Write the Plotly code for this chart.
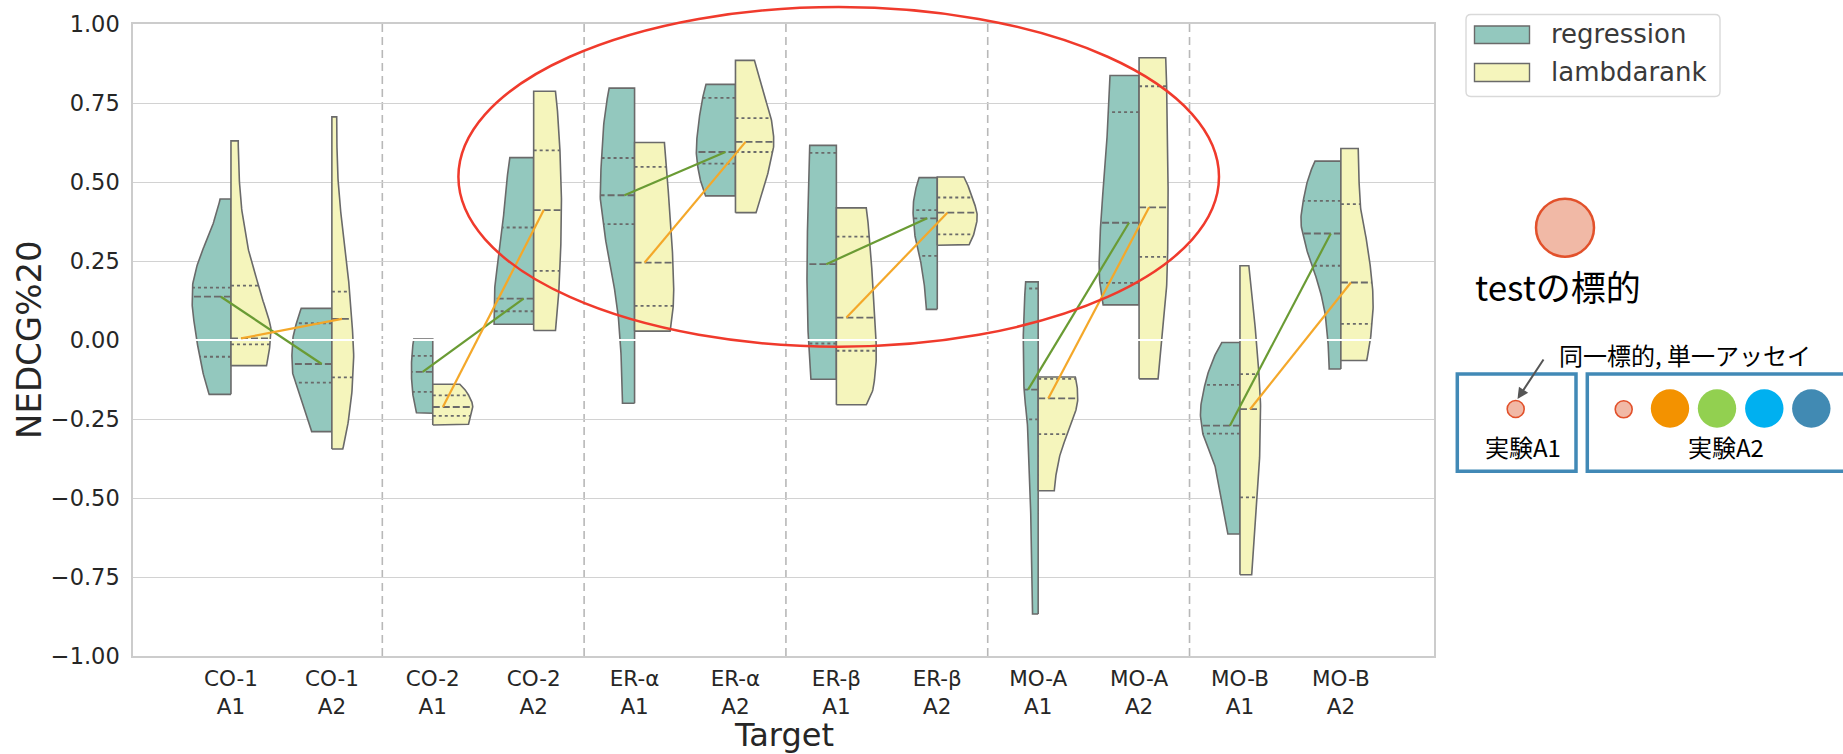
import numpy as np
import plotly.graph_objects as go

# ---------------- data ----------------
categories = ["CO-1<br>A1", "CO-1<br>A2", "CO-2<br>A1", "CO-2<br>A2", "ER-α<br>A1", "ER-α<br>A2",
              "ER-β<br>A1", "ER-β<br>A2", "MO-A<br>A1", "MO-A<br>A2", "MO-B<br>A1", "MO-B<br>A2"]

# quartiles of NEDCG%20 per violin
reg_q1 = [-0.053, -0.135, -0.164, 0.091, 0.367, 0.558, -0.011, 0.266, -0.251, 0.181, -0.296, 0.235]
reg_median = [0.137, -0.076, -0.101, 0.131, 0.458, 0.595, 0.240, 0.385, -0.157, 0.371, -0.271, 0.337]
reg_q3 = [0.166, 0.053, -0.050, 0.356, 0.576, 0.766, 0.592, 0.411, 0.163, 0.721, -0.142, 0.440]

lr_q1 = [-0.014, -0.118, -0.240, 0.219, 0.108, 0.595, -0.034, 0.334, -0.298, 0.263, -0.498, 0.051]
lr_median = [0.005, 0.067, -0.212, 0.411, 0.245, 0.627, 0.071, 0.403, -0.185, 0.420, -0.219, 0.182]
lr_q3 = [0.172, 0.153, -0.175, 0.600, 0.548, 0.702, 0.327, 0.451, -0.123, 0.803, -0.108, 0.430]

# density profiles (value levels from min to max, relative density at each level)
reg_levels = [
    [-0.172, -0.105, -0.053, 0.0, 0.053, 0.105, 0.158, 0.211, 0.263, 0.316, 0.369, 0.446],
    [-0.290, -0.263, -0.211, -0.158, -0.105, -0.053, 0.0, 0.053, 0.100],
    [-0.232, -0.164, -0.100, -0.050, 0.003],
    [0.050, 0.148, 0.253, 0.358, 0.464, 0.577],
    [-0.200, -0.063, 0.042, 0.148, 0.253, 0.367, 0.458, 0.576, 0.674, 0.797],
    [0.456, 0.537, 0.595, 0.727, 0.809],
    [-0.124, 0.063, 0.240, 0.379, 0.616],
    [0.097, 0.221, 0.327, 0.411, 0.514],
    [-0.867, -0.622, -0.380, -0.260, -0.157, -0.018, 0.184],
    [0.111, 0.223, 0.371, 0.586, 0.837],
    [-0.614, -0.516, -0.411, -0.358, -0.296, -0.232, -0.142, -0.063, -0.008],
    [-0.092, 0.063, 0.169, 0.274, 0.379, 0.442, 0.506, 0.566],
]
reg_density = [
    [0.54, 0.69, 0.77, 0.85, 0.91, 0.96, 0.96, 0.89, 0.77, 0.60, 0.44, 0.27],
    [0.50, 0.57, 0.70, 0.84, 0.97, 0.99, 0.97, 0.88, 0.76],
    [0.40, 0.50, 0.53, 0.52, 0.47],
    [0.98, 0.97, 0.88, 0.77, 0.70, 0.59],
    [0.30, 0.33, 0.38, 0.48, 0.64, 0.77, 0.85, 0.82, 0.77, 0.63],
    [0.74, 0.92, 0.97, 0.87, 0.73],
    [0.63, 0.71, 0.73, 0.71, 0.66],
    [0.27, 0.37, 0.55, 0.60, 0.45],
    [0.14, 0.17, 0.23, 0.27, 0.35, 0.37, 0.31],
    [0.89, 0.99, 0.95, 0.82, 0.72],
    [0.30, 0.44, 0.59, 0.75, 0.92, 0.98, 0.87, 0.67, 0.45],
    [0.29, 0.37, 0.54, 0.82, 0.99, 0.93, 0.82, 0.64],
]

lr_levels = [
    [-0.081, -0.032, 0.032, 0.074, 0.137, 0.200, 0.263, 0.348, 0.421, 0.527, 0.630],
    [-0.345, -0.263, -0.158, -0.053, 0.053, 0.158, 0.263, 0.369, 0.474, 0.579, 0.706],
    [-0.269, -0.240, -0.210, -0.175, -0.140],
    [0.030, 0.148, 0.253, 0.411, 0.569, 0.674, 0.787],
    [0.028, 0.148, 0.245, 0.358, 0.464, 0.548, 0.625],
    [0.403, 0.464, 0.537, 0.627, 0.674, 0.780, 0.885],
    [-0.205, -0.148, -0.042, 0.071, 0.221, 0.327, 0.418],
    [0.300, 0.337, 0.390, 0.451, 0.516],
    [-0.477, -0.380, -0.298, -0.260, -0.185, -0.117],
    [-0.123, -0.018, 0.223, 0.420, 0.707, 0.893],
    [-0.743, -0.621, -0.498, -0.358, -0.219, -0.108, 0.063, 0.235],
    [-0.065, 0.011, 0.116, 0.274, 0.432, 0.606],
]
lr_density = [
    [0.88, 0.95, 0.99, 0.92, 0.76, 0.62, 0.47, 0.35, 0.26, 0.20, 0.18],
    [0.27, 0.40, 0.50, 0.54, 0.50, 0.44, 0.34, 0.25, 0.17, 0.13, 0.12],
    [0.88, 0.94, 0.99, 0.89, 0.67],
    [0.54, 0.62, 0.66, 0.69, 0.66, 0.62, 0.54],
    [0.88, 0.97, 0.95, 0.90, 0.84, 0.78, 0.74],
    [0.51, 0.66, 0.82, 0.95, 0.92, 0.70, 0.47],
    [0.74, 0.92, 0.99, 0.95, 0.88, 0.82, 0.74],
    [0.78, 0.91, 0.99, 0.87, 0.66],
    [0.40, 0.51, 0.72, 0.84, 0.98, 0.92],
    [0.47, 0.55, 0.70, 0.72, 0.70, 0.66],
    [0.29, 0.36, 0.43, 0.49, 0.51, 0.47, 0.36, 0.22],
    [0.64, 0.74, 0.80, 0.69, 0.48, 0.43],
]

y_ticks = [-1.0, -0.75, -0.5, -0.25, 0.0, 0.25, 0.5, 0.75, 1.0]
y_tick_labels = ["−1.00", "−0.75", "−0.50", "−0.25", "0.00", "0.25", "0.50", "0.75", "1.00"]

# ---------------- styles ----------------
REG_FILL = "#93c8be"
LR_FILL = "#f5f5bc"
EDGE = "#6a6a6a"
GREEN = "#6a9b34"
ORANGE = "#f4a82a"
HALF_WIDTH = 0.4
MED_OFFSET = 0.1
FONT = "DejaVu Sans"
JP = "Noto Sans CJK JP"
TXT = "#262626"

W, H = 1843, 754
PL, PR, PT, PB = 133, 1434, 24, 656
X_RANGE = [-0.971, 11.923]


def pchip_slopes(x, y):
    n = len(x)
    h = np.diff(x)
    delta = np.diff(y) / h
    d = np.zeros(n)
    if n == 2:
        d[:] = delta[0]
        return d
    for k in range(1, n - 1):
        if delta[k - 1] * delta[k] <= 0:
            d[k] = 0.0
        else:
            w1 = 2 * h[k] + h[k - 1]
            w2 = h[k] + 2 * h[k - 1]
            d[k] = (w1 + w2) / (w1 / delta[k - 1] + w2 / delta[k])

    def end(h0, h1, d0, d1):
        s = ((2 * h0 + h1) * d0 - h0 * d1) / (h0 + h1)
        if np.sign(s) != np.sign(d0):
            s = 0.0
        elif np.sign(d0) != np.sign(d1) and abs(s) > abs(3 * d0):
            s = 3 * d0
        return s

    d[0] = end(h[0], h[1], delta[0], delta[1])
    d[-1] = end(h[-1], h[-2], delta[-1], delta[-2])
    return d


def pchip_eval(x, y, xs):
    x = np.asarray(x, float)
    y = np.asarray(y, float)
    xs = np.atleast_1d(np.asarray(xs, float))
    d = pchip_slopes(x, y)
    idx = np.clip(np.searchsorted(x, xs) - 1, 0, len(x) - 2)
    x0, x1 = x[idx], x[idx + 1]
    y0, y1 = y[idx], y[idx + 1]
    d0, d1 = d[idx], d[idx + 1]
    h = x1 - x0
    t = (xs - x0) / h
    h00 = 2 * t**3 - 3 * t**2 + 1
    h10 = t**3 - 2 * t**2 + t
    h01 = -2 * t**3 + 3 * t**2
    h11 = t**3 - t**2
    return h00 * y0 + h10 * h * d0 + h01 * y1 + h11 * h * d1


fig = go.Figure()


def add_half(i, levels, dens, side, fill):
    lv = np.asarray(levels, float)
    ys = np.linspace(lv[0], lv[-1], 120)
    w = pchip_eval(lv, dens, ys) * HALF_WIDTH
    xs = i + side * w
    x = np.concatenate([[i], xs, [i], [i]])
    y = np.concatenate([[lv[0]], ys, [lv[-1]], [lv[0]]])
    fig.add_trace(go.Scatter(x=x, y=y, mode="lines", fill="toself", fillcolor=fill,
                             line=dict(color=EDGE, width=1.6), hoverinfo="skip",
                             showlegend=False))


for i in range(len(categories)):
    add_half(i, reg_levels[i], reg_density[i], -1, REG_FILL)
    add_half(i, lr_levels[i], lr_density[i], 1, LR_FILL)


def quartile_traces(levels, dens, qs_dot_a, qs_med, qs_dot_b, side):
    dx, dy, mx, my = [], [], [], []
    for i in range(len(categories)):
        for q in (qs_dot_a[i], qs_dot_b[i]):
            w = float(pchip_eval(levels[i], dens[i], q)[0]) * HALF_WIDTH
            dx += [i, i + side * w, None]
            dy += [q, q, None]
        q = qs_med[i]
        w = float(pchip_eval(levels[i], dens[i], q)[0]) * HALF_WIDTH
        mx += [i, i + side * w, None]
        my += [q, q, None]
    fig.add_trace(go.Scatter(x=dx, y=dy, mode="lines", hoverinfo="skip", showlegend=False,
                             line=dict(color=EDGE, width=1.8, dash="3px,3px")))
    fig.add_trace(go.Scatter(x=mx, y=my, mode="lines", hoverinfo="skip", showlegend=False,
                             line=dict(color=EDGE, width=1.8, dash="7px,3px")))


quartile_traces(reg_levels, reg_density, reg_q1, reg_median, reg_q3, -1)
quartile_traces(lr_levels, lr_density, lr_q1, lr_median, lr_q3, 1)

# white line at zero
fig.add_trace(go.Scatter(x=X_RANGE, y=[0, 0], mode="lines", hoverinfo="skip", showlegend=False,
                         line=dict(color="white", width=2.2)))

# median connection lines A1 -> A2 for each target
gx, gy, ox, oy = [], [], [], []
for t in range(len(categories) // 2):
    a, b = 2 * t, 2 * t + 1
    gx += [a - MED_OFFSET, b - MED_OFFSET, None]
    gy += [reg_median[a], reg_median[b], None]
    ox += [a + MED_OFFSET, b + MED_OFFSET, None]
    oy += [lr_median[a], lr_median[b], None]
fig.add_trace(go.Scatter(x=gx, y=gy, mode="lines", hoverinfo="skip", showlegend=False,
                         line=dict(color=GREEN, width=2.2)))
fig.add_trace(go.Scatter(x=ox, y=oy, mode="lines", hoverinfo="skip", showlegend=False,
                         line=dict(color=ORANGE, width=2.2)))

# ---------------- layout ----------------
shapes = []
for t in range(len(categories) // 2 - 1):
    xd = 2 * t + 1.5
    shapes.append(dict(type="line", xref="x", yref="paper", x0=xd, x1=xd, y0=0, y1=1,
                       line=dict(color="#b8b8b8", width=1.6, dash="8px,5px"), layer="below"))


def px(xp):
    return (xp - PL) / (PR - PL)


def py(yp):
    return (PB - yp) / (PB - PT)


def rounded_rect(x0, y0, x1, y1, r):
    X = lambda v: f"{px(v):.5f}"
    Y = lambda v: f"{py(v):.5f}"
    return (f"M {X(x0 + r)},{Y(y0)} L {X(x1 - r)},{Y(y0)} Q {X(x1)},{Y(y0)} {X(x1)},{Y(y0 + r)} "
            f"L {X(x1)},{Y(y1 - r)} Q {X(x1)},{Y(y1)} {X(x1 - r)},{Y(y1)} "
            f"L {X(x0 + r)},{Y(y1)} Q {X(x0)},{Y(y1)} {X(x0)},{Y(y1 - r)} "
            f"L {X(x0)},{Y(y0 + r)} Q {X(x0)},{Y(y0)} {X(x0 + r)},{Y(y0)} Z")


def circle(cx, cy, r, fill, line_color=None, lw=0):
    return dict(type="circle", xref="paper", yref="paper", x0=px(cx - r), x1=px(cx + r),
                y0=py(cy + r), y1=py(cy - r), fillcolor=fill,
                line=dict(color=line_color if line_color else fill, width=lw), layer="above")


def rect(x0, y0, x1, y1, fill, line_color, lw):
    return dict(type="rect", xref="paper", yref="paper", x0=px(x0), x1=px(x1),
                y0=py(y1), y1=py(y0), fillcolor=fill, line=dict(color=line_color, width=lw),
                layer="above")


# legend
shapes.append(dict(type="path", xref="paper", yref="paper", path=rounded_rect(1466, 14.5, 1720, 96.5, 5),
                   fillcolor="rgba(255,255,255,0.9)", line=dict(color="#d9d9d9", width=1.4), layer="above"))
shapes.append(rect(1474.5, 26, 1529.5, 43.5, REG_FILL, EDGE, 1.4))
shapes.append(rect(1474.5, 63.5, 1529.5, 81.5, LR_FILL, EDGE, 1.4))

# red ellipse highlight
shapes.append(dict(type="circle", xref="paper", yref="paper", x0=px(458.4), x1=px(1219),
                   y0=py(346.7), y1=py(7), line=dict(color="#f03a2c", width=2.5), layer="above"))

# right-hand schematic
SALMON = "#f1b9a6"
RED_EDGE = "#e2512b"
BLUE_BOX = "#4189b6"
shapes.append(circle(1565, 227.7, 29, SALMON, RED_EDGE, 2.5))
shapes.append(rect(1457.3, 374, 1576, 471.3, "rgba(0,0,0,0)", BLUE_BOX, 3.5))
shapes.append(rect(1587.3, 374, 1870, 471.3, "rgba(0,0,0,0)", BLUE_BOX, 3.5))
shapes.append(circle(1515.7, 409, 8.5, SALMON, RED_EDGE, 1.6))
shapes.append(circle(1623.7, 409.3, 8.5, SALMON, RED_EDGE, 1.6))
for cx, col in zip([1670, 1717, 1764.3, 1811.3], ["#f39200", "#92d050", "#00b0f0", "#418ab3"]):
    shapes.append(circle(cx, 408.5, 19.2, col))

annotations = [
    dict(text="NEDCG%20", x=px(29), y=py(340), xref="paper", yref="paper", xanchor="center",
         yanchor="middle", textangle=-90, showarrow=False, font=dict(family=FONT, size=34, color=TXT)),
    dict(text="Target", x=px(783.5), y=py(734.5), xref="paper", yref="paper", xanchor="center",
         yanchor="middle", showarrow=False, font=dict(family=FONT, size=32, color=TXT)),
    dict(text="regression", x=px(1549), y=py(34.5), xref="paper", yref="paper", xanchor="left",
         yanchor="middle", showarrow=False, font=dict(family=FONT, size=26, color="#3a3a3a")),
    dict(text="lambdarank", x=px(1549), y=py(72.5), xref="paper", yref="paper", xanchor="left",
         yanchor="middle", showarrow=False, font=dict(family=FONT, size=26, color="#3a3a3a")),
    dict(text="testの標的", x=px(1558.3), y=py(285), xref="paper", yref="paper", xanchor="center",
         yanchor="middle", showarrow=False, font=dict(family=JP, size=35, color="#000000")),
    dict(text="同一標的, 単一アッセイ", x=px(1557), y=py(354), xref="paper", yref="paper",
         xanchor="left", yanchor="middle", showarrow=False, font=dict(family=JP, size=24, color="#000000")),
    dict(text="実験A1", x=px(1522.5), y=py(446.7), xref="paper", yref="paper", xanchor="center",
         yanchor="middle", showarrow=False, font=dict(family=JP, size=24, color="#000000")),
    dict(text="実験A2", x=px(1725.8), y=py(446.7), xref="paper", yref="paper", xanchor="center",
         yanchor="middle", showarrow=False, font=dict(family=JP, size=24, color="#000000")),
    dict(text="", x=px(1517.5), y=py(399), xref="paper", yref="paper", showarrow=True,
         ax=27, ay=-41, arrowhead=2, arrowsize=1.1, arrowwidth=2, arrowcolor="#555555", standoff=0),
]

fig.update_layout(
    width=W, height=H,
    margin=dict(l=PL, r=W - PR, t=PT, b=H - PB, autoexpand=False),
    paper_bgcolor="white", plot_bgcolor="white",
    font=dict(family=FONT, color=TXT, size=22),
    showlegend=False,
    shapes=shapes,
    annotations=annotations,
    xaxis=dict(range=X_RANGE, tickmode="array", tickvals=list(range(len(categories))),
               ticktext=categories, showgrid=False, zeroline=False, showline=True, mirror=True,
               linecolor="#cccccc", linewidth=1.5, ticks="outside", ticklen=2,
               tickcolor="rgba(0,0,0,0)", tickfont=dict(size=21.5, color=TXT), automargin=False),
    yaxis=dict(range=[-1, 1], tickmode="array", tickvals=y_ticks, ticktext=y_tick_labels,
               showgrid=True, gridcolor="#d2d2d2", gridwidth=1.3, zeroline=False,
               showline=True, mirror=True, linecolor="#cccccc", linewidth=1.5,
               ticks="outside", ticklen=7, tickcolor="rgba(0,0,0,0)",
               tickfont=dict(size=22.5, color=TXT), automargin=False),
)

fig.write_html("out.html", config={"displayModeBar": False},
               post_script="document.body.style.margin='0px';document.body.style.padding='0px';")
